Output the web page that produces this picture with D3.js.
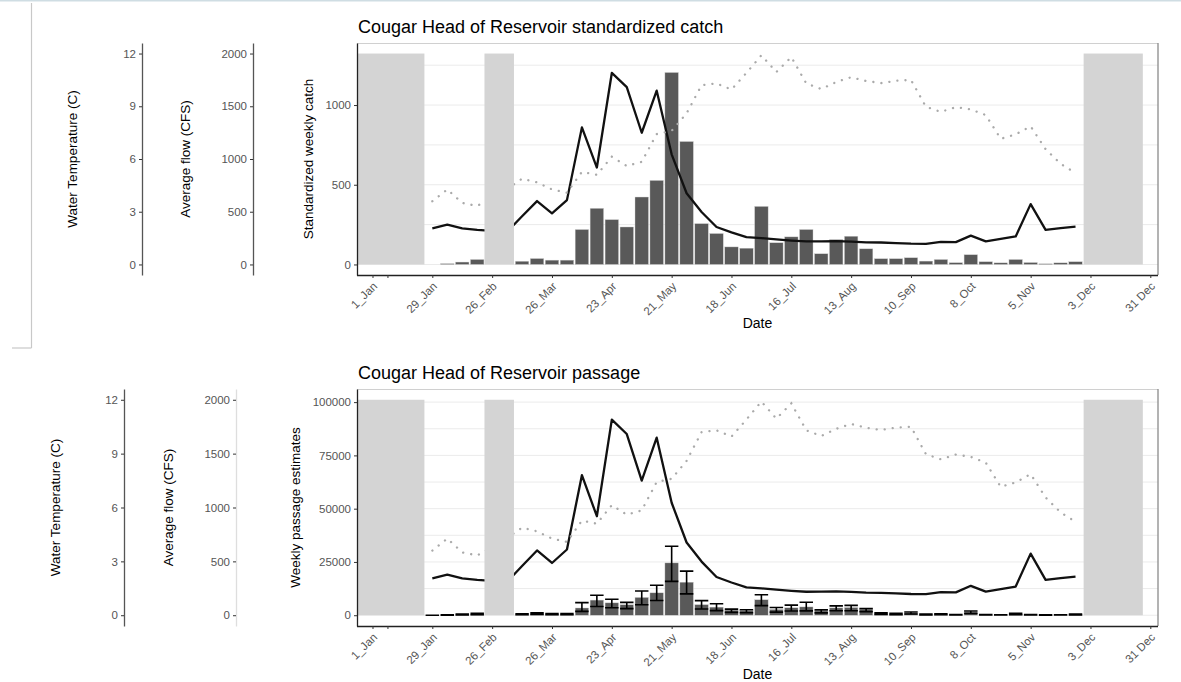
<!DOCTYPE html>
<html><head><meta charset="utf-8">
<script src="https://cdn.jsdelivr.net/npm/d3@7"></script>
<style>body{margin:0;background:#fff} text{font-family:"Liberation Sans",Arial,sans-serif}</style>
</head><body><svg id="c" width="1181" height="682"></svg>
<script>
// ---- data (day of year, 0 = 1 Jan) ----
const weekDays = [28,35,42,49,56,63,70,77,84,91,98,105,112,119,126,133,140,147,154,161,168,175,182,189,196,203,210,217,224,231,238,245,252,259,266,273,280,287,294,301,308,315,322,329];
const catchVals = [0,5,15,31,null,null,20,37,27,27,219,352,281,235,423,527,1204,771,256,194,110,102,364,136,173,219,67,156,177,98,36,36,42,21,31,11,61,17,10,31,12,4,10,17];
const flowCFS = [343,377,343,328,318,310,457,601,485,610,1300,919,1816,1682,1249,1648,1044,675,498,355,304,259,250,237,226,218,219,222,216,210,208,203,197,196,215,212,273,219,243,266,572,328,344,358];
const tempC = [3.6,4.27,3.5,3.33,3.8,4.3,4.88,4.67,4.27,4.08,5.27,5.1,6.13,5.6,5.84,7.42,7.6,8.6,10.2,10.3,9.95,10.9,11.9,10.95,11.8,10.3,9.98,10.38,10.65,10.44,10.32,10.45,10.5,8.97,8.68,8.95,8.82,8.5,7.15,7.4,7.86,6.56,5.73,5.2];
const passage = [0,100,300,620,null,null,420,740,540,540,3400,7100,5800,4900,8350,10500,24550,15500,4950,3800,2400,2100,7250,2700,3480,3900,2020,3430,3600,2680,800,600,1080,300,500,200,1550,200,150,600,200,100,150,300];
const passLo = [0,50,150,300,null,null,200,400,300,300,1800,4100,3500,3100,4950,6900,15900,10000,2950,2150,1350,1150,4500,1450,2000,2020,1100,2100,2100,1700,400,300,600,150,250,100,800,100,80,300,100,50,80,150];
const passHi = [0,200,500,900,null,null,650,1100,800,800,5900,9400,7480,6050,11370,14100,32390,20680,6850,5370,2860,2570,9600,3630,4730,6100,2500,4400,4600,3100,1100,900,1500,500,700,300,2000,300,250,900,300,150,250,500];
const closedStart = [-7.25, 52.4, 332.8];
const closedEnd = [24.3, 66.2, 360.5];
const tickDays = [0,7,28,56,84,112,140,168,196,224,252,280,308,336,364];
const tickLabels = ["1_Jan","","29_Jan","26_Feb","26_Mar","23_Apr","21_May","18_Jun","16_Jul","13_Aug","10_Sep","8_Oct","5_Nov","3_Dec","31 Dec"];
const tempTicks = [0,3,6,9,12];
const flowTicks = [0,500,1000,1500,2000];
const catchTicks = [0,500,1000];
const passTicks = [0,25000,50000,75000,100000];

const svg = d3.select("#c");
// page frame artifacts
svg.append("line").attr("x1",0).attr("x2",1181).attr("y1",0.5).attr("y2",0.5).attr("stroke","#cfdde3").attr("stroke-width",2);
svg.append("line").attr("x1",31.5).attr("x2",31.5).attr("y1",3).attr("y2",348).attr("stroke","#c8c8c8").attr("stroke-width",1.2);
svg.append("line").attr("x1",12).attr("x2",31.5).attr("y1",348).attr("y2",348).attr("stroke","#c8c8c8").attr("stroke-width",1.2);

const X0 = 357, X1 = 1158;
const x = d3.scaleLinear().domain([-7.25, 367.6]).range([X0, X1]);
const barW = x(6.3) - x(0);
const fmt = d3.format("d");

function styleAxis(g, lineColor){
  g.selectAll(".domain").attr("stroke", lineColor).attr("stroke-width",1.3);
  g.selectAll(".tick line").attr("stroke","#333").attr("stroke-width",1);
  g.selectAll(".tick text").attr("fill","#555").style("font-size","11.5px").style("font-family",'"Liberation Sans",Arial,sans-serif');
}

function panel(p){
  const g = svg.append("g");
  const y = d3.scaleLinear().domain(p.yDom).range([p.y1, p.y0]);
  const yT = d3.scaleLinear().domain([-0.6,12.6]).range([p.y1, p.y0]);
  const yF = d3.scaleLinear().domain([-100,2100]).range([p.y1, p.y0]);
  // grid (major + minor)
  const grid = d3.range(0, p.yDom[1], p.gridStep);
  g.append("g").selectAll("line").data(grid).join("line")
    .attr("x1",X0).attr("x2",X1).attr("y1",d=>y(d)).attr("y2",d=>y(d))
    .attr("stroke","#ebebeb").attr("stroke-width",1);
  // bars
  const rows = weekDays.map((d,i)=>({day:d, v:p.vals[i], lo:p.lo?p.lo[i]:null, hi:p.hi?p.hi[i]:null, f:flowCFS[i], t:tempC[i]}));
  const barRows = rows.filter(r=>r.v!==null);
  g.append("g").selectAll("rect").data(barRows).join("rect")
    .attr("x",r=>x(r.day)-barW/2).attr("width",barW)
    .attr("y",r=>Math.min(y(r.v),y(0))).attr("height",r=>Math.abs(y(0)-y(r.v)))
    .attr("fill","#595959").attr("stroke","#cfcfcf").attr("stroke-width",0.4);
  if(p.lo){
    const eb = g.append("g").attr("stroke","#000").attr("stroke-width",1.6).attr("fill","none");
    eb.selectAll("path").data(barRows).join("path")
      .attr("d",r=>{const xl=x(r.day)-barW/2, xr=x(r.day)+barW/2, xc=x(r.day), yl=y(r.lo), yh=y(r.hi);
        return `M${xl},${yh}H${xr}M${xc},${yh}V${yl}M${xl},${yl}H${xr}`;});
  }
  // flow line
  g.append("path").datum(rows).attr("fill","none").attr("stroke","#111").attr("stroke-width",2.3)
    .attr("stroke-linejoin","round")
    .attr("d", d3.line().x(r=>x(r.day)).y(r=>yF(r.f)));
  // temperature dotted line
  g.append("path").datum(rows).attr("fill","none").attr("stroke","#aaaaaa").attr("stroke-width",2.3)
    .attr("stroke-linecap","round").attr("stroke-dasharray","0.1 8")
    .attr("d", d3.line().x(r=>x(r.day)).y(r=>yT(r.t)));
  // closed periods
  g.append("g").selectAll("rect").data(closedStart.map((s,i)=>({s, e:closedEnd[i]}))).join("rect")
    .attr("x",d=>Math.max(X0+1,x(d.s))).attr("width",d=>x(d.e)-Math.max(X0+1,x(d.s)))
    .attr("y",y(p.rectMax)).attr("height",y(0)-y(p.rectMax)).attr("fill","#d4d4d4");
  // borders
  g.append("line").attr("x1",X0).attr("x2",X1).attr("y1",p.y0+0.5).attr("y2",p.y0+0.5).attr("stroke","#d0d0d0").attr("stroke-width",1.2);
  g.append("line").attr("x1",X1).attr("x2",X1).attr("y1",p.y0).attr("y2",p.y1).attr("stroke","#8a8a8a").attr("stroke-width",1.3);
  // main y axis
  const ay = g.append("g").attr("transform",`translate(${X0},0)`)
    .call(d3.axisLeft(y).tickValues(p.ticks).tickFormat(fmt).tickSize(3).tickSizeOuter(0).tickPadding(3));
  styleAxis(ay,"#222");
  // x axis
  const ax = g.append("g").attr("transform",`translate(0,${p.y1})`)
    .call(d3.axisBottom(x).tickValues(tickDays).tickFormat((d,i)=>tickLabels[i]).tickSize(3).tickSizeOuter(0));
  styleAxis(ax,"#222");
  ax.select(".domain").attr("d",`M${X0},0.5H${X1}`);
  ax.selectAll(".tick text").attr("text-anchor","end").attr("dy",null).attr("y",null)
    .attr("transform","translate(5,12) rotate(-45)");
  // left temperature and flow axes
  const at = g.append("g").attr("transform",`translate(${p.tx},0)`)
    .call(d3.axisLeft(yT).tickValues(tempTicks).tickFormat(fmt).tickSize(3).tickSizeOuter(0).tickPadding(3));
  styleAxis(at,"#555");
  const af = g.append("g").attr("transform",`translate(${p.fx},0)`)
    .call(d3.axisLeft(yF).tickValues(flowTicks).tickFormat(fmt).tickSize(3).tickSizeOuter(0).tickPadding(3));
  styleAxis(af,p.flowAxisColor);
  // titles
  const ym = (p.y0+p.y1)/2;
  const vt = (tx,txt)=>g.append("text").attr("transform",`translate(${tx},${ym}) rotate(-90)`)
     .attr("text-anchor","middle").attr("dominant-baseline","central").style("font-size","13.5px").attr("fill","#000").text(txt);
  vt(p.tTitleX,"Water Temperature (C)");
  vt(p.fTitleX,"Average flow (CFS)");
  vt(p.mTitleX,p.yTitle);
  g.append("text").attr("x",(X0+X1)/2).attr("y",p.y1+53).attr("text-anchor","middle").style("font-size","14px").attr("fill","#000").text("Date");
  g.append("text").attr("x",X0+1).attr("y",p.y0-10).style("font-size","18px").attr("fill","#000").text(p.title);
}

panel({y0:43, y1:275, yDom:[-66.15,1389.15], gridStep:250, rectMax:1323, vals:catchVals, ticks:catchTicks,
  tx:142, fx:253, flowAxisColor:"#555", tTitleX:72, fTitleX:185, mTitleX:308,
  yTitle:"Standardized weekly catch", title:"Cougar Head of Reservoir standardized catch"});
panel({y0:389, y1:626, yDom:[-5055,106155], gridStep:12500, rectMax:101100, vals:passage, lo:passLo, hi:passHi, ticks:passTicks,
  tx:124, fx:236, flowAxisColor:"#dedede", tTitleX:55, fTitleX:168, mTitleX:295,
  yTitle:"Weekly passage estimates", title:"Cougar Head of Reservoir passage"});
</script></body></html>
